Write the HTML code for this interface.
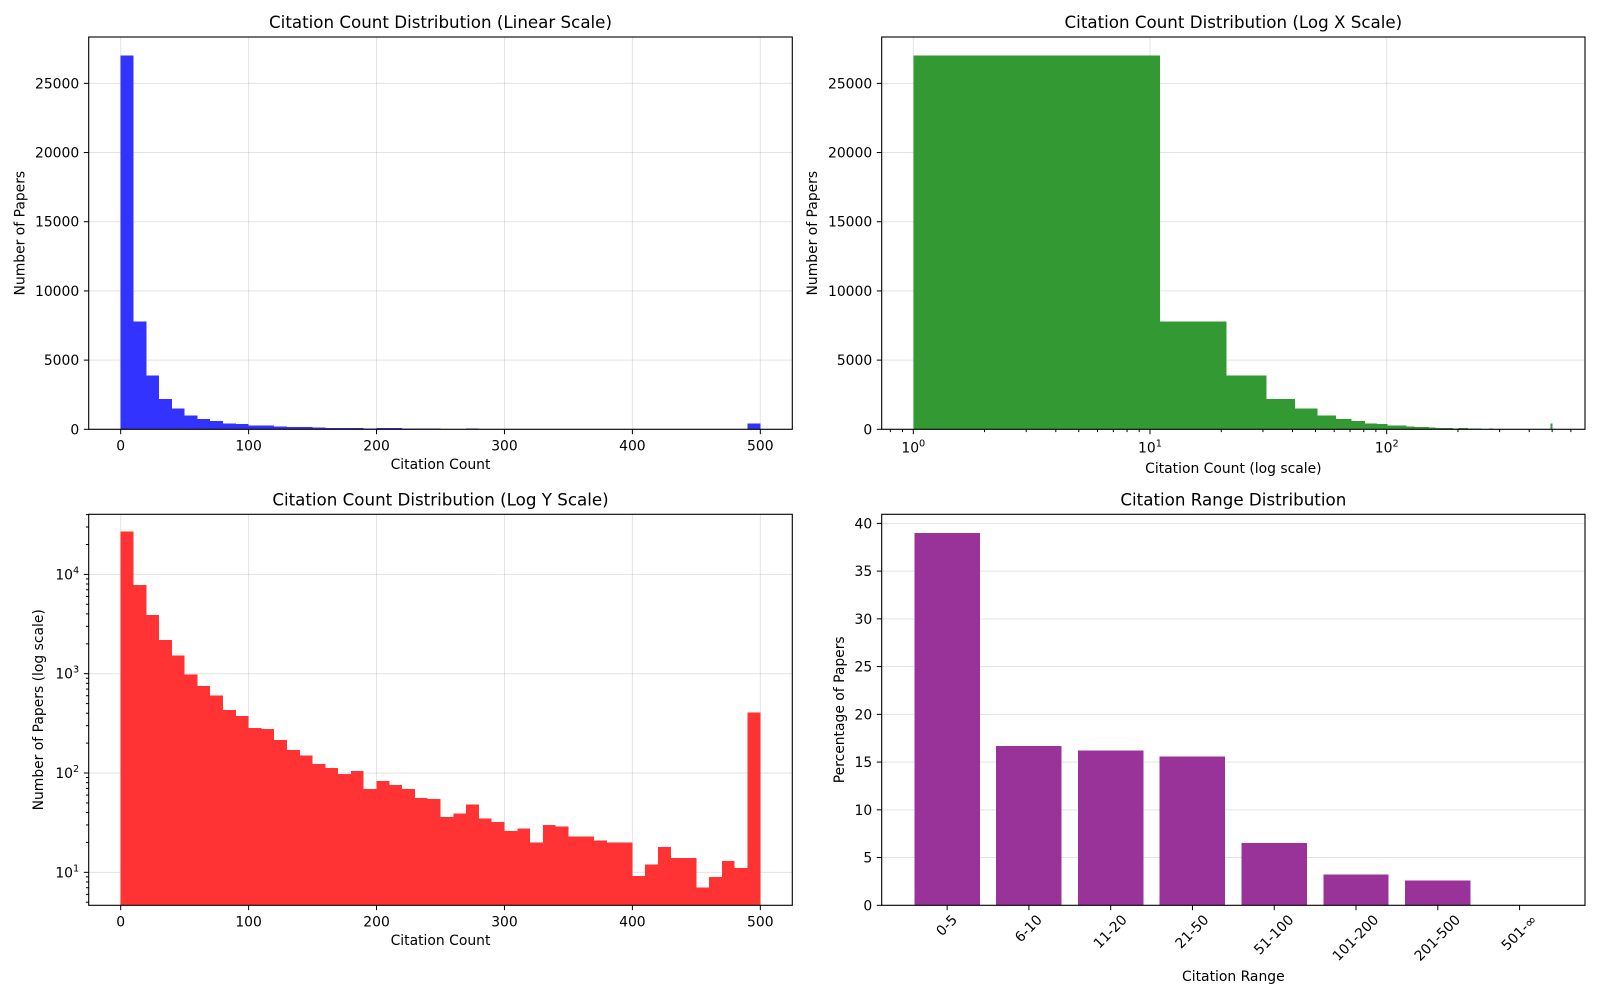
<!DOCTYPE html>
<html><head><meta charset="utf-8"><style>
html,body{margin:0;padding:0;background:#fff;}
svg{display:block;font-family:"DejaVu Sans","Liberation Sans",sans-serif;}
</style></head><body>
<svg id="fig" width="1600" height="1000" viewBox="0 0 1600 1000" xmlns="http://www.w3.org/2000/svg"></svg>
<script>
// ---- data ----
const binCounts = [27000,7800,3900,2180,1520,980,750,600,430,375,285,277,215,170,150,123,112,98,105,69,83,76,69,56,55,36,39,48,35,32,26,27.5,20,30,29,23,23,21,20,20,9.2,12,18,14,14,7,9,13,11,405];
const binWidth = 10;
const linTicksX = [0,100,200,300,400,500];
const linTicksY = [0,5000,10000,15000,20000,25000];
const logXDecades = [0,1,2];
const logYDecades = [1,2,3,4];
const rangeCategories = ["0-5","6-10","11-20","21-50","51-100","101-200","201-500","501-∞"];
const rangePercents = [39.0,16.7,16.2,15.6,6.5,3.2,2.6,0];
const pctTicks = [0,5,10,15,20,25,30,35,40];

const NS="http://www.w3.org/2000/svg";
const svg=document.getElementById('fig');
function mk(tag,attrs,parent,text){const e=document.createElementNS(NS,tag);for(const k in attrs)e.setAttribute(k,attrs[k]);if(text!==undefined)e.textContent=text;(parent||svg).appendChild(e);return e;}
const FS=13.9, TFS=16.7;

function panel(name,L,T,R,B){
  const g=mk('g',{});
  
  
  return {g,L,T,R,B};
}
function frame(p){
  const r=mk('rect',{x:p.L,y:p.T,width:p.R-p.L,height:p.B-p.T,fill:'none',stroke:'#000','stroke-width':1.1},p.g);
  
  
}
function gridV(p,x){const l=mk('line',{x1:x,x2:x,y1:p.T,y2:p.B,stroke:'#b0b0b0','stroke-opacity':0.35,'stroke-width':1},p.g);}
function gridH(p,y){const l=mk('line',{x1:p.L,x2:p.R,y1:y,y2:y,stroke:'#b0b0b0','stroke-opacity':0.35,'stroke-width':1},p.g);}
function tickX(p,x,len){mk('line',{x1:x,x2:x,y1:p.B,y2:p.B+len,stroke:'#000','stroke-width':1},p.g);}
function tickY(p,y,len){mk('line',{x1:p.L-len,x2:p.L,y1:y,y2:y,stroke:'#000','stroke-width':1},p.g);}
function xLabel(p,x,txt){const t=mk('text',{x:x,y:p.B+21,'text-anchor':'middle','font-size':FS,fill:'#000'},p.g,txt);}
function yLabel(p,y,txt){const t=mk('text',{x:p.L-9.5,y:y+5,'text-anchor':'end','font-size':FS,fill:'#000'},p.g,txt);}
function powLabel(p,x,y,exp,anchor){
  const t=mk('text',{x:x,y:y,'text-anchor':anchor,'font-size':FS,fill:'#000'},p.g);
  
  
  mk('tspan',{},t,'10');
  mk('tspan',{'font-size':FS*0.7,dy:-6},t,String(exp));
}
function title(p,txt){const t=mk('text',{x:(p.L+p.R)/2,y:p.T-9,'text-anchor':'middle','font-size':TFS,fill:'#000'},p.g,txt);}
function axTitleX(p,txt,y){const t=mk('text',{x:(p.L+p.R)/2,y:y,'text-anchor':'middle','font-size':FS,fill:'#000'},p.g,txt);}
function axTitleY(p,txt,x){const cy=(p.T+p.B)/2;const t=mk('text',{x:x,y:cy,'text-anchor':'middle','dominant-baseline':'central','font-size':FS,fill:'#000',transform:`rotate(-90 ${x} ${cy})`},p.g,txt);}

// ===== Panel 1: linear =====
(function(){
  const p=panel('linear-histogram',88.7,37,792.3,429.3);
  const x0=-25,x1=525,y1=Math.max(...binCounts)*1.05;
  const sx=v=>p.L+(v-x0)/(x1-x0)*(p.R-p.L);
  const sy=v=>p.B-v/y1*(p.B-p.T);
  linTicksX.forEach(v=>gridV(p,sx(v)));
  linTicksY.forEach(v=>gridH(p,sy(v)));
  binCounts.forEach((c,i)=>{
    const r=mk('rect',{x:sx(i*binWidth),y:sy(c),width:sx((i+1)*binWidth)-sx(i*binWidth),height:p.B-sy(c),fill:'#3333ff','shape-rendering':'crispEdges'},p.g);
    
    
  });
  frame(p);
  linTicksX.forEach(v=>{tickX(p,sx(v),4.9);xLabel(p,sx(v),String(v));});
  linTicksY.forEach(v=>{tickY(p,sy(v),4.9);yLabel(p,sy(v),String(v));});
  title(p,'Citation Count Distribution (Linear Scale)');
  axTitleX(p,'Citation Count',469);
  axTitleY(p,'Number of Papers',20.5);
})();

// ===== Panel 2: log x =====
(function(){
  const p=panel('log-x-histogram',881.7,37,1585,429.3);
  const lx0=-0.1335, lx1=lx0+(p.R-p.L)/236.7, y1=Math.max(...binCounts)*1.05;
  const sx=v=>p.L+(Math.log10(v)-lx0)/(lx1-lx0)*(p.R-p.L);
  const sy=v=>p.B-v/y1*(p.B-p.T);
  logXDecades.forEach(d=>gridV(p,sx(Math.pow(10,d))));
  linTicksY.forEach(v=>gridH(p,sy(v)));
  binCounts.forEach((c,i)=>{
    const a=1+i*binWidth,b=1+(i+1)*binWidth;
    const r=mk('rect',{x:sx(a),y:sy(c),width:sx(b)-sx(a),height:p.B-sy(c),fill:'#339933','shape-rendering':'crispEdges'},p.g);
    
    
  });
  frame(p);
  for(let d=-1;d<=2;d++)for(let m=2;m<=9;m++){const v=m*Math.pow(10,d);const x=sx(v);if(x>p.L&&x<p.R)tickX(p,x,2.8);}
  logXDecades.forEach(d=>{const x=sx(Math.pow(10,d));tickX(p,x,4.9);powLabel(p,x,p.B+23,d,'middle');});
  linTicksY.forEach(v=>{tickY(p,sy(v),4.9);yLabel(p,sy(v),String(v));});
  title(p,'Citation Count Distribution (Log X Scale)');
  axTitleX(p,'Citation Count (log scale)',473);
  axTitleY(p,'Number of Papers',813);
})();

// ===== Panel 3: log y =====
(function(){
  const p=panel('log-y-histogram',88.7,514.3,792.3,905.3);
  const x0=-25,x1=525;
  const ly0=0.668, ly1=4.605;
  const sx=v=>p.L+(v-x0)/(x1-x0)*(p.R-p.L);
  const sy=v=>p.B-(Math.log10(v)-ly0)/(ly1-ly0)*(p.B-p.T);
  linTicksX.forEach(v=>gridV(p,sx(v)));
  logYDecades.forEach(d=>gridH(p,sy(Math.pow(10,d))));
  binCounts.forEach((c,i)=>{
    const r=mk('rect',{x:sx(i*binWidth),y:sy(c),width:sx((i+1)*binWidth)-sx(i*binWidth),height:p.B-sy(c),fill:'#ff3333','shape-rendering':'crispEdges'},p.g);
    
    
  });
  frame(p);
  linTicksX.forEach(v=>{tickX(p,sx(v),4.9);xLabel(p,sx(v),String(v));});
  for(let d=0;d<=4;d++)for(let m=2;m<=9;m++){const y=sy(m*Math.pow(10,d));if(y>p.T&&y<p.B)tickY(p,y,2.8);}
  logYDecades.forEach(d=>{const y=sy(Math.pow(10,d));tickY(p,y,4.9);powLabel(p,p.L-9.5,y+5,d,'end');});
  title(p,'Citation Count Distribution (Log Y Scale)');
  axTitleX(p,'Citation Count',945);
  axTitleY(p,'Number of Papers (log scale)',39);
})();

// ===== Panel 4: ranges =====
(function(){
  const p=panel('citation-range-bar-chart',881.7,514.3,1585,905.3);
  const x0=-0.8,x1=rangeCategories.length-0.2,y1=Math.max(...rangePercents)*1.05;
  const sx=v=>p.L+(v-x0)/(x1-x0)*(p.R-p.L);
  const sy=v=>p.B-v/y1*(p.B-p.T);
  pctTicks.forEach(v=>gridH(p,sy(v)));
  rangePercents.forEach((v,i)=>{
    const r=mk('rect',{x:sx(i-0.4),y:sy(v),width:sx(i+0.4)-sx(i-0.4),height:p.B-sy(v),fill:'#993399','shape-rendering':'crispEdges'},p.g);
    
    
  });
  frame(p);
  pctTicks.forEach(v=>{tickY(p,sy(v),4.9);yLabel(p,sy(v),String(v));});
  rangeCategories.forEach((c,i)=>{
    const x=sx(i);tickX(p,x,4.9);
    const t=mk('text',{x:0,y:0,'text-anchor':'middle','dominant-baseline':'central','font-size':FS,fill:'#000'},p.g,c);
    
    
    const w=t.getComputedTextLength()||c.length*8;
    const h=10;
    const cy=p.B+9+(w+h)*0.7071/2;
    t.setAttribute('x',x);t.setAttribute('y',cy);
    t.setAttribute('transform',`rotate(-45 ${x} ${cy})`);
  });
  title(p,'Citation Range Distribution');
  axTitleX(p,'Citation Range',981);
  axTitleY(p,'Percentage of Papers',840);
})();
</script>
</body></html>
